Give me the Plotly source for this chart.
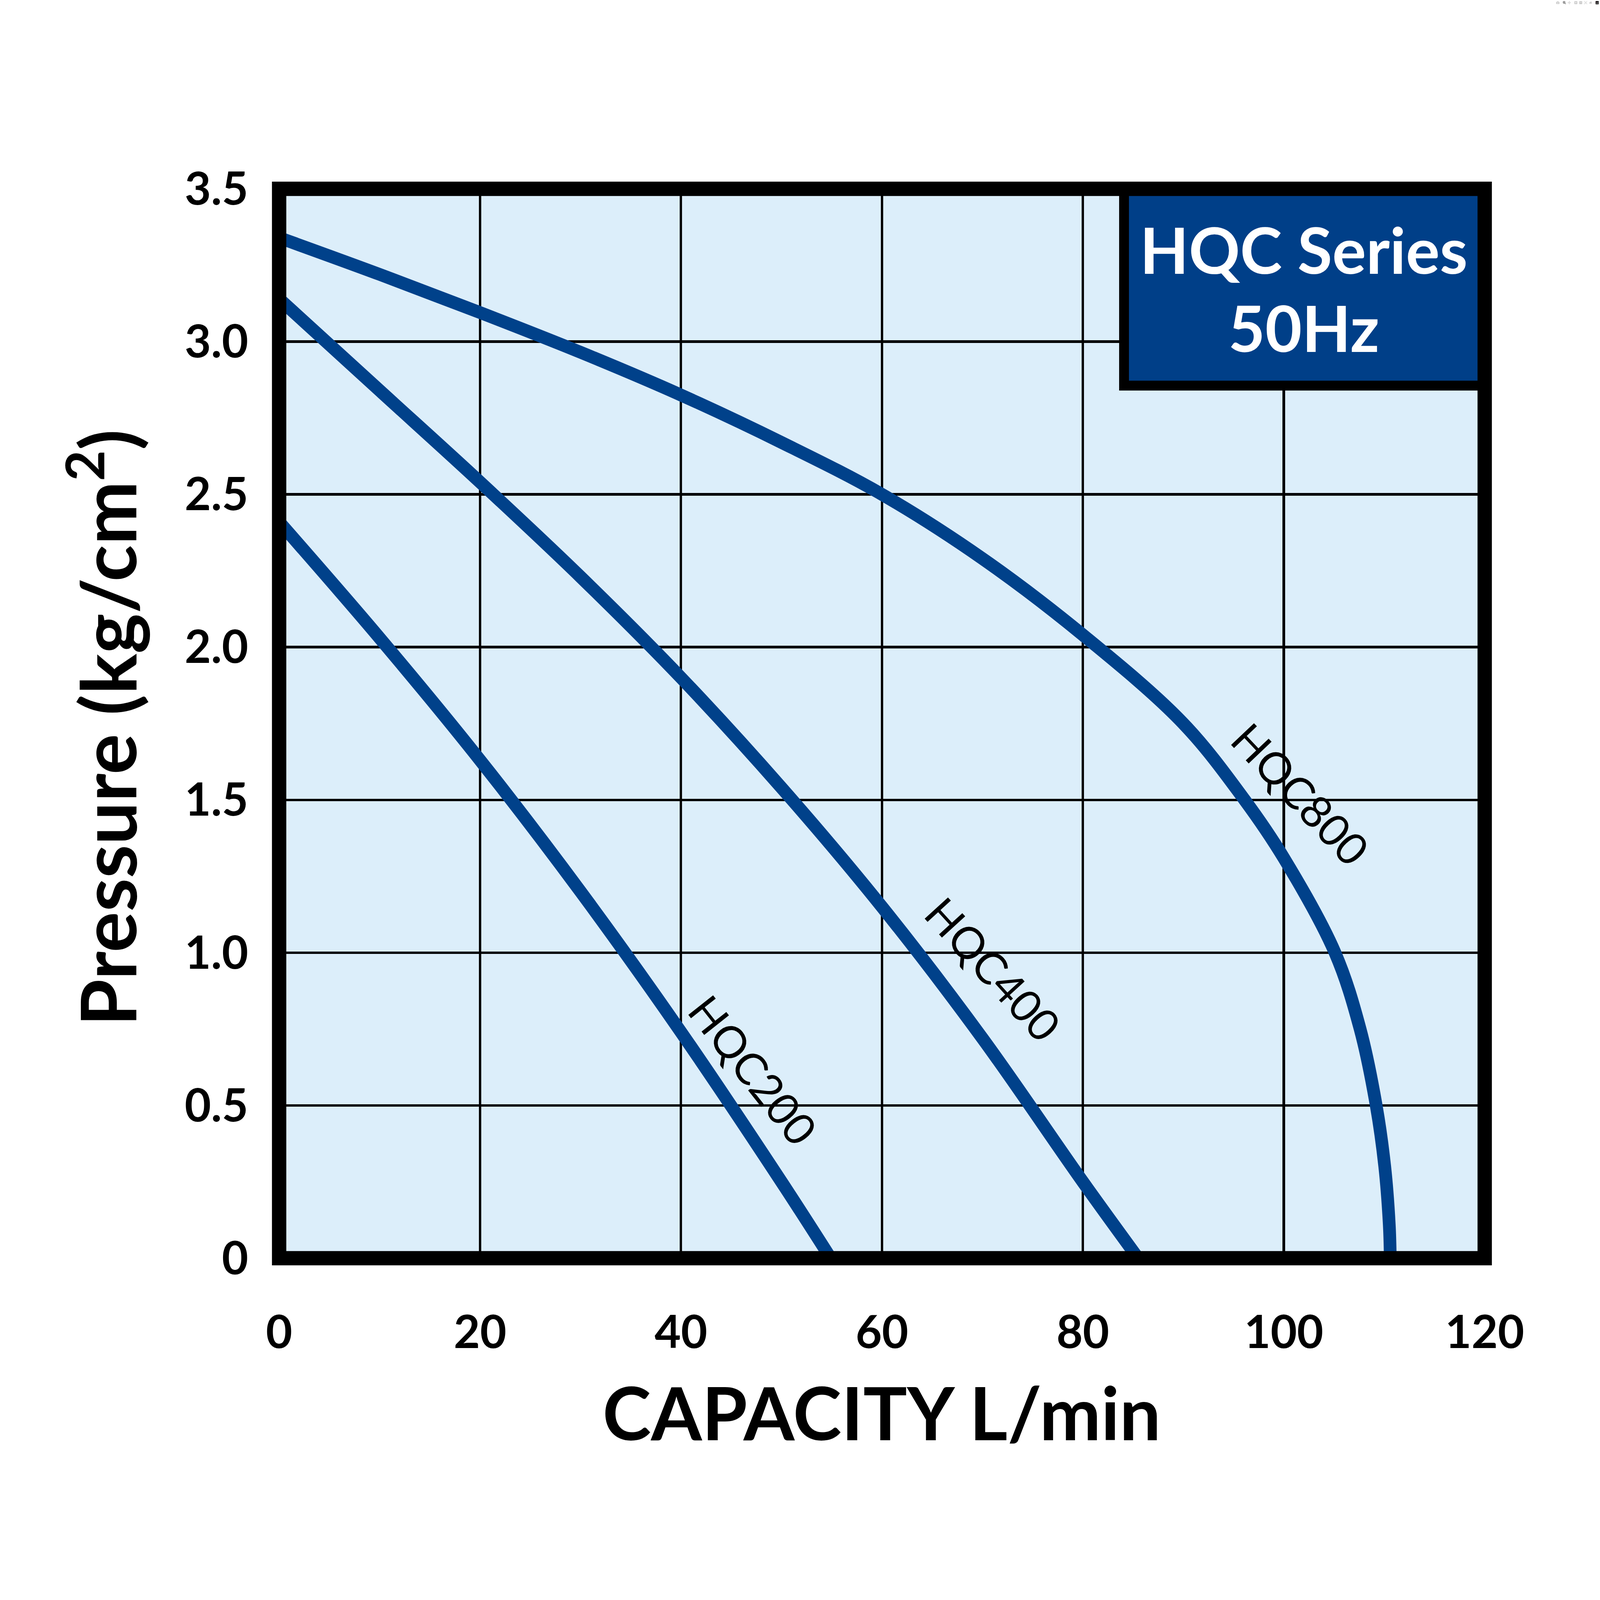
import plotly.graph_objects as go

# ---- data ----
hqc800_x = [0, 10, 20, 30, 40, 50, 60, 70, 80, 90, 96.1, 100, 105.1, 107.6, 109.2, 110.05, 110.5, 110.6]
hqc800_y = [3.34, 3.22, 3.095, 2.965, 2.825, 2.67, 2.50, 2.29, 2.04, 1.75, 1.5, 1.31, 1.0, 0.75, 0.5, 0.3, 0.11, 0.0]

hqc400_x = [0, 10, 20, 30, 40, 50, 60, 70, 80, 85.5]
hqc400_y = [3.14, 2.84, 2.54, 2.23, 1.90, 1.54, 1.15, 0.72, 0.25, 0.0]

hqc200_x = [0, 10, 20, 30, 40, 50, 54.9]
hqc200_y = [2.41, 2.03, 1.63, 1.20, 0.74, 0.25, 0.0]

series_names = ["HQC800", "HQC400", "HQC200"]
label_x = [101.7, 71.1, 47.2]
label_y = [1.52, 0.947, 0.617]
label_angle = [46.5, 47.6, 51.6]

x_ticks = [0, 20, 40, 60, 80, 100, 120]
x_tick_text = ["0", "20", "40", "60", "80", "100", "120"]
y_ticks = [0, 0.5, 1.0, 1.5, 2.0, 2.5, 3.0, 3.5]
y_tick_text = ["0", "0.5", "1.0", "1.5", "2.0", "2.5", "3.0", "3.5"]

x_title = "CAPACITY L/min"
y_title = "Pressure (kg/cm<sup>2</sup>)"
box_lines = ["HQC Series", "50Hz"]

# ---- style ----
CURVE = "#00418A"
BOX = "#003F88"
BG = "#DCEEFA"
FONT = "Lato"

W = H = 7813
L, R, T, B = 1363, 563, 922, 1669

fig = go.Figure()
for xs, ys, nm in zip([hqc800_x, hqc400_x, hqc200_x], [hqc800_y, hqc400_y, hqc200_y], series_names):
    fig.add_trace(go.Scatter(x=xs, y=ys, mode="lines", name=nm,
                             line=dict(color=CURVE, width=62, shape="spline", smoothing=1.0),
                             hoverinfo="skip", showlegend=False))

# curve labels
for nm, lx, ly, ang in zip(series_names, label_x, label_y, label_angle):
    fig.add_annotation(x=lx, y=ly, xref="x", yref="y", text=nm, showarrow=False,
                       textangle=ang, font=dict(family=FONT, size=215, color="black"))

# HQC Series box
fig.add_shape(type="rect", xref="x", yref="y", x0=84.1, x1=120, y0=2.856, y1=3.5,
              fillcolor=BOX, line=dict(color="black", width=48), layer="above")
fig.add_annotation(x=102.0, y=3.302, xref="x", yref="y", text=box_lines[0], showarrow=False,
                   font=dict(family=FONT, size=310, color="white", weight="bold"))
fig.add_annotation(x=102.0, y=3.046, xref="x", yref="y", text=box_lines[1], showarrow=False,
                   font=dict(family=FONT, size=310, color="white", weight="bold"))

# outer frame
fig.add_shape(type="rect", xref="paper", yref="paper", x0=0, x1=1, y0=0, y1=1,
              line=dict(color="black", width=70), layer="above")

# axis titles
fig.add_annotation(x=0.4998, y=-0.1436, xref="paper", yref="paper", text=x_title,
                   showarrow=False, yanchor="middle",
                   font=dict(family=FONT, size=358, color="black", weight="bold"))
fig.add_annotation(x=-0.147, y=0.496, xref="paper", yref="paper", text=y_title,
                   showarrow=False, textangle=-90, xanchor="center",
                   font=dict(family=FONT, size=372, color="black", weight="bold"))

fig.update_xaxes(range=[0, 120], tickvals=x_ticks, ticktext=x_tick_text,
                 showgrid=True, gridcolor="black", gridwidth=12, zeroline=False,
                 showline=False, ticks="", ticklabelstandoff=215,
                 tickfont=dict(family=FONT, size=222, color="black", weight="bold"))
fig.update_yaxes(range=[0, 3.5], tickvals=y_ticks, ticktext=y_tick_text,
                 showgrid=True, gridcolor="black", gridwidth=12, zeroline=False,
                 showline=False, ticks="", ticklabelstandoff=150,
                 tickfont=dict(family=FONT, size=222, color="black", weight="bold"))

fig.update_layout(width=W, height=H, margin=dict(l=L, r=R, t=T, b=B, autoexpand=False),
                  plot_bgcolor=BG, paper_bgcolor="white", showlegend=False)

# scale the fixed-size figure so it fits the browser viewport exactly
fit_js = """
var gd = document.getElementById('{plot_id}');
document.documentElement.style.margin = '0';
document.body.style.margin = '0';
document.body.style.overflow = 'hidden';
var s = Math.min(window.innerWidth, window.innerHeight) / %d;
if (s < 1) {
  gd.style.transformOrigin = '0 0';
  gd.style.transform = 'scale(' + s + ')';
}
""" % W

fig.write_html("out.html", post_script=fit_js)
